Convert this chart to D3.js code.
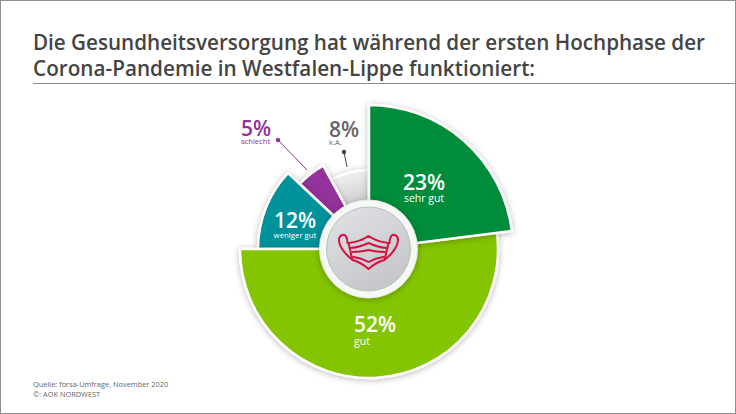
<!DOCTYPE html>
<html><head><meta charset="utf-8">
<script src="https://cdnjs.cloudflare.com/ajax/libs/d3/7.8.5/d3.min.js"></script>
<style>html,body{margin:0;padding:0;background:#fff}svg{display:block}text{font-family:"Open Sans",sans-serif}</style>
</head><body><svg id="c" width="736" height="414"></svg>
<script>
const titleLines=["Die Gesundheitsversorgung hat während der ersten Hochphase der","Corona-Pandemie in Westfalen-Lippe funktioniert:"];
const categories=["sehr gut","gut","weniger gut","schlecht","k.A."];
const values=[23,52,12,5,8];
const sourceLines=["Quelle: forsa-Umfrage, November 2020","©: AOK NORDWEST"];

const svg=d3.select("#c");
const defs=svg.append("defs");
const sh=defs.append("filter").attr("id","sh").attr("x","-30%").attr("y","-30%").attr("width","160%").attr("height","160%");
sh.append("feDropShadow").attr("dx",0).attr("dy",1).attr("stdDeviation",3).attr("flood-color","#000").attr("flood-opacity",.28);
const g1=defs.append("linearGradient").attr("id","disc").attr("x1",.2).attr("y1",0).attr("x2",.8).attr("y2",1);
g1.append("stop").attr("offset",0).attr("stop-color","#dfe0e3");
g1.append("stop").attr("offset",1).attr("stop-color","#c2c4c7");
const g2=defs.append("radialGradient").attr("id","kag").attr("gradientUnits","userSpaceOnUse").attr("cx",0).attr("cy",0).attr("r",80);
g2.append("stop").attr("offset",.6).attr("stop-color","#cfd0d1");
g2.append("stop").attr("offset",1).attr("stop-color","#f1f1f1");

svg.append("rect").attr("x",.5).attr("y",.5).attr("width",735).attr("height",413).attr("fill","#fff").attr("stroke","#8f8f8f");

const titleWidths=[672,502];
svg.append("g").selectAll("text").data(titleLines).join("text")
 .attr("x",33).attr("y",(d,i)=>50+i*26).attr("font-size",21.5).attr("font-weight",600).attr("fill","#444")
 .attr("textLength",(d,i)=>titleWidths[i]).attr("lengthAdjust","spacingAndGlyphs").text(d=>d);
svg.append("line").attr("x1",33).attr("x2",736).attr("y1",83.5).attr("y2",83.5).attr("stroke","#8a8a8a");

const cx=369,cy=249;
const outer=d3.scaleOrdinal().domain(categories).range([144,129,111,95,79]);
const color=d3.scaleOrdinal().domain(categories).range(["#008c3a","#84c400","#00929b","#93309a","#d4d4d4"]);
const pie=d3.pie().sort(null).value(d=>d.v);
const arcs=pie(categories.map((c,i)=>({c,v:values[i]})));
const arc=d3.arc().innerRadius(0);
const root=svg.append("g").attr("transform",`translate(${cx},${cy})`);
const order=[4,3,2,1,0];
root.selectAll("path.s").data(order.map(i=>arcs[i])).join("path").attr("class","s")
 .attr("d",d=>arc({...d,outerRadius:outer(d.data.c)}))
 .attr("fill",d=>d.data.c==="k.A."?"url(#kag)":color(d.data.c))
 .attr("stroke","#fff").attr("stroke-width",2.5).attr("stroke-linejoin","miter")
 .attr("filter","url(#sh)");

// hub
const hub=svg.append("g").attr("transform",`translate(368.5,249)`);
hub.append("circle").attr("r",49).attr("fill","#f6f8f5").attr("stroke","#e3e8e2").attr("stroke-width",1).attr("filter","url(#sh)");
hub.append("circle").attr("r",42).attr("fill","url(#disc)").attr("stroke","#b9c2b6").attr("stroke-width",1);
// mask icon
const m=hub.append("g").attr("fill","none").attr("stroke","#d5103f").attr("stroke-width",2).attr("stroke-linecap","round").attr("stroke-linejoin","round");
m.append("path").attr("d","M-20,-6 Q-9,-7 0,-13 Q9,-7 20,-6 L16,11 Q8,13 0,20 Q-8,13 -16,11 Z");
m.append("path").attr("d","M-18,-1 Q-8,-2 0,-6 Q8,-2 18,-1");
m.append("path").attr("d","M-16,3 Q-8,3 0,1 Q8,3 16,3");
m.append("path").attr("d","M-15,8 Q-7,9 0,13 Q7,9 15,8");
m.append("path").attr("d","M-21,-6 C-21,-11 -23,-15 -26,-14 C-31,-13 -30,-6 -27,-1 C-24,4 -21,7 -17,10");
m.append("path").attr("d","M21,-6 C21,-11 23,-15 26,-14 C31,-13 30,-6 27,-1 C24,4 21,7 17,10");

// labels
const labels=svg.append("g");
function lab(x,y,i,fill,small,anchor,dy){
 labels.append("text").attr("x",x).attr("y",y).attr("font-size",21).attr("font-weight",600).attr("fill",fill).attr("text-anchor",anchor).text(values[i]+"%");
 labels.append("text").attr("x",x).attr("y",y+dy).attr("font-size",small).attr("fill",fill).attr("text-anchor",anchor).text(categories[i]);
}
lab(424,190,0,"#fff",10.5,"middle",12);
lab(354,332,1,"#fff",10.5,"start",13);
lab(295,228,2,"#fff",7.8,"middle",10);
lab(241,136,3,"#93309a",7.6,"start",8);
lab(329,137,4,"#666",7.6,"start",8);

// leaders
svg.append("line").attr("x1",278).attr("y1",140).attr("x2",307).attr("y2",170).attr("stroke","#93309a").attr("stroke-width",1);
svg.append("circle").attr("cx",278).attr("cy",140).attr("r",2.2).attr("fill","#93309a");
svg.append("line").attr("x1",344).attr("y1",152).attr("x2",347).attr("y2",167).attr("stroke","#444").attr("stroke-width",1);
svg.append("circle").attr("cx",344).attr("cy",152).attr("r",2.2).attr("fill","#444");

svg.append("g").selectAll("text").data(sourceLines).join("text")
 .attr("x",33).attr("y",(d,i)=>387+i*10).attr("font-size",7.4).attr("fill","#666").text(d=>d);
</script></body></html>
